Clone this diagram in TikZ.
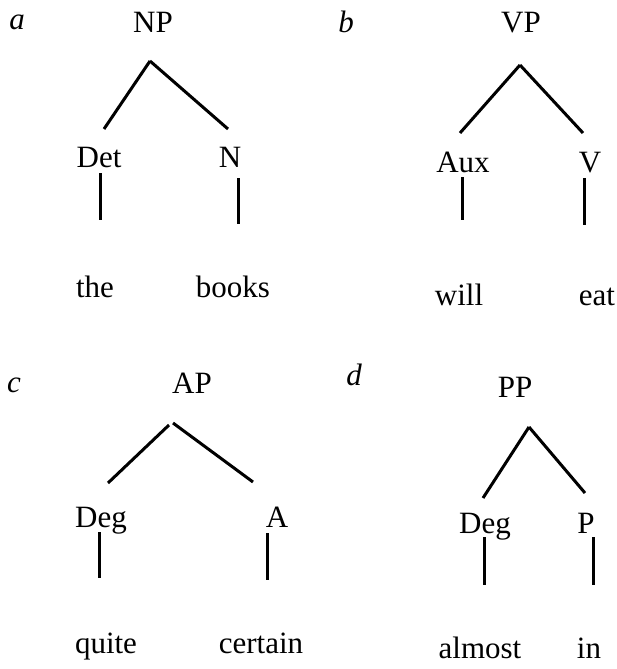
\documentclass[tikz,border=0pt]{standalone}
\usepackage{fontspec}
\setmainfont{Liberation Serif}
\usepackage{tikz}
\usetikzlibrary{calc}

\begin{document}
\begin{tikzpicture}[x=1pt,y=-1pt]
	\tikzstyle{cat} = [anchor=base,inner sep=0pt,font=\fontsize{31}{36}\selectfont]
\tikzstyle{tag} = [cat,font=\fontsize{31}{36}\selectfont\itshape]
\tikzstyle{branch} = [line width=3pt]
\useasboundingbox (0,0) rectangle (616,669);
% a
\node(la)[tag] at (17,30) {a};
\node(np)[cat] at (153,33) {NP};
\node(det)[cat] at (99,167) {Det};
\node(n)[cat] at (230,167) {N};
\node(the)[cat] at (95,297) {the};
\node(books)[cat] at (233,297) {books};
\draw[branch] ($(np.base)+(-3,28)$) -- ($(det.base)+(5,-38)$);
\draw[branch] ($(np.base)+(-3,28)$) -- ($(n.base)+(-2,-38)$);
\draw[branch] ($(det.base)+(1,6)$) -- ($(the.base)+(5,-77)$);
\draw[branch] ($(n.base)+(8,11)$) -- ($(books.base)+(5,-73)$);
% b
\node(lb)[tag] at (346,33) {b};
\node(vp)[cat] at (521,33) {VP};
\node(aux)[cat] at (463,172) {Aux};
\node(v)[cat] at (590,172) {V};
\node(will)[cat] at (459,305) {will};
\node(eat)[cat] at (597,305) {eat};
\draw[branch] ($(vp.base)+(-1,32)$) -- ($(aux.base)+(-3,-39)$);
\draw[branch] ($(vp.base)+(-1,32)$) -- ($(v.base)+(-7,-39)$);
\draw[branch] ($(aux.base)+(-1,5)$) -- ($(will.base)+(3,-85)$);
\draw[branch] ($(v.base)+(-6,6)$) -- ($(eat.base)+(-13,-80)$);
% c
\node(lc)[tag] at (14,392) {c};
\node(ap)[cat] at (192,393) {AP};
\node(degc)[cat] at (101,527) {Deg};
\node(adj)[cat] at (277,527) {A};
\node(quite)[cat] at (106,653) {quite};
\node(certain)[cat] at (261,653) {certain};
\draw[branch] ($(ap.base)+(-23,32)$) -- ($(degc.base)+(7,-44)$);
\draw[branch] ($(ap.base)+(-19,30)$) -- ($(adj.base)+(-24,-45)$);
\draw[branch] ($(degc.base)+(-2,5)$) -- ($(quite.base)+(-7,-75)$);
\draw[branch] ($(adj.base)+(-10,6)$) -- ($(certain.base)+(6,-73)$);
% d
\node(ld)[tag] at (354,385) {d};
\node(pp)[cat] at (515,397) {PP};
\node(degd)[cat] at (485,533) {Deg};
\node(p)[cat] at (586,533) {P};
\node(almost)[cat] at (480,658) {almost};
\node(in)[cat] at (589,658) {in};
\draw[branch] ($(pp.base)+(14,30)$) -- ($(degd.base)+(-2,-35)$);
\draw[branch] ($(pp.base)+(14,30)$) -- ($(p.base)+(-1,-40)$);
\draw[branch] ($(degd.base)+(-1,4)$) -- ($(almost.base)+(4,-73)$);
\draw[branch] ($(p.base)+(7,4)$) -- ($(in.base)+(4,-73)$);
  \end{tikzpicture}
\end{document}
